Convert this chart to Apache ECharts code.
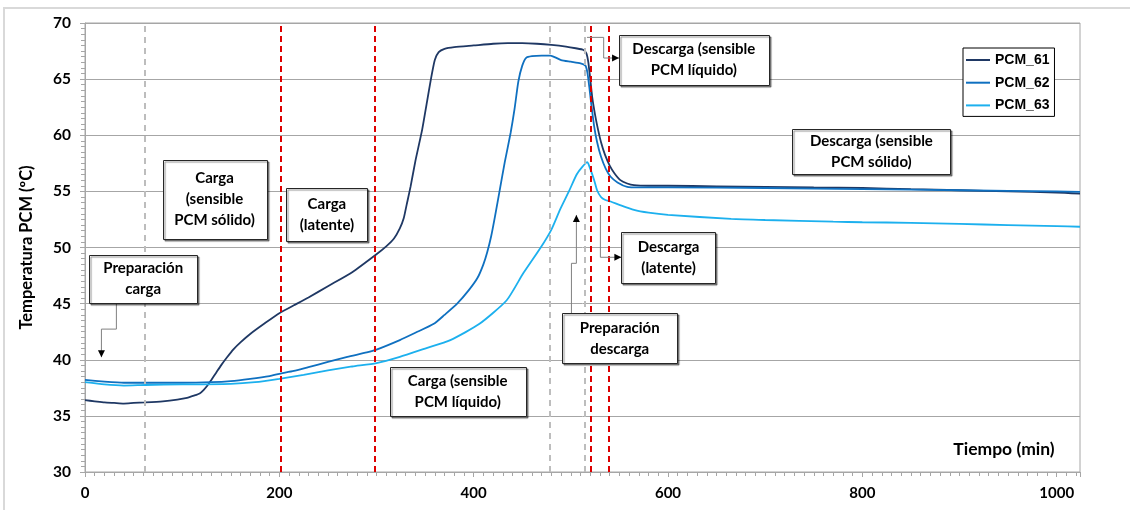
<!DOCTYPE html>
<html>
<head>
<meta charset="utf-8">
<script src="https://cdn.jsdelivr.net/npm/echarts@6/dist/echarts.min.js"></script>
<style>
  html, body { margin: 0; padding: 0; background: #fff; }
  #chart { width: 1130px; height: 510px; }
</style>
</head>
<body>
<div id="chart"></div>
<script>
// Temperatura del PCM (ºC) frente al tiempo (min) para los tres sensores
const pcm61Time = [0, 10, 20, 30, 40, 50, 62, 80, 95, 105, 112, 118, 122, 126, 130, 135, 140, 146, 153, 160, 170, 185, 200, 215, 230, 250, 275, 300, 310, 318, 324, 328, 331, 335, 340, 347, 352, 356, 360, 364, 370, 380, 400, 420, 435, 450, 465, 480, 495, 505, 513, 516, 518, 520, 522, 525, 528, 531, 535, 540, 545, 551, 558, 565, 580, 600, 650, 700, 750, 800, 850, 900, 950, 1000, 1024];
const pcm61Temp = [36.4, 36.3, 36.2, 36.15, 36.1, 36.15, 36.2, 36.3, 36.45, 36.6, 36.8, 37.0, 37.3, 37.7, 38.2, 38.85, 39.5, 40.2, 40.95, 41.55, 42.3, 43.25, 44.15, 44.85, 45.55, 46.55, 47.8, 49.4, 50.1, 50.8, 51.7, 52.6, 53.8, 55.4, 57.7, 60.5, 63.0, 65.0, 66.7, 67.4, 67.7, 67.85, 68.0, 68.15, 68.2, 68.2, 68.15, 68.05, 67.9, 67.75, 67.6, 67.3, 66.5, 65.0, 63.4, 61.8, 60.5, 59.4, 58.3, 57.3, 56.6, 56.0, 55.7, 55.55, 55.5, 55.5, 55.45, 55.4, 55.35, 55.3, 55.2, 55.1, 55.0, 54.9, 54.8];

const pcm62Time = [0, 20, 40, 62, 100, 130, 150, 170, 190, 200, 215, 230, 250, 270, 290, 300, 324, 340, 359, 370, 383, 395, 404, 410, 414, 418, 422, 427, 432, 438, 442, 446, 450, 454, 460, 470, 479, 485, 490, 500, 510, 515, 517, 519, 521, 524, 527, 531, 536, 541, 548, 558, 570, 600, 700, 800, 900, 1000, 1024];
const pcm62Temp = [38.2, 38.05, 37.95, 37.95, 37.95, 38.0, 38.1, 38.3, 38.55, 38.75, 39.0, 39.35, 39.8, 40.25, 40.65, 40.9, 41.75, 42.4, 43.2, 44.0, 45.0, 46.2, 47.3, 48.5, 49.6, 51.0, 52.8, 55.2, 57.6, 60.2, 62.3, 64.8, 66.2, 66.9, 67.05, 67.1, 67.1, 66.9, 66.7, 66.55, 66.4, 66.2, 65.6, 64.3, 62.8, 60.8, 59.4, 58.1, 57.0, 56.3, 55.8, 55.4, 55.35, 55.35, 55.3, 55.2, 55.1, 55.0, 54.95];

const pcm63Time = [0, 20, 40, 62, 100, 150, 175, 200, 225, 250, 275, 300, 324, 350, 376, 406, 434, 451, 469, 480, 489, 498, 506, 512, 517, 520, 524, 527, 531, 535, 541, 550, 565, 580, 600, 665, 700, 770, 800, 850, 900, 950, 1000, 1024];
const pcm63Temp = [38.0, 37.8, 37.7, 37.75, 37.8, 37.85, 38.0, 38.3, 38.65, 39.05, 39.4, 39.7, 40.26, 41.0, 41.75, 43.2, 45.3, 47.7, 50.0, 51.6, 53.4, 55.0, 56.5, 57.2, 57.6, 57.0, 56.0, 55.1, 54.5, 54.25, 54.1, 53.8, 53.35, 53.1, 52.9, 52.55, 52.45, 52.3, 52.25, 52.2, 52.1, 52.0, 51.9, 51.85];

const seriesNames = ['PCM_61', 'PCM_62', 'PCM_63'];

// Límites de fase (min)
const phaseGray = [62, 478, 514];
const phaseRed = [201, 298, 520, 539];

// Cuadros de texto de las fases, en coordenadas de datos: [t0, T0, t1, T1]
const phaseBoxes = [
  { text: 'Preparación\ncarga', box: [4.1, 49.33, 115.7, 45.08],
    arrow: [[32.3, 45.08], [32.3, 42.73], [16.9, 42.73], [16.9, 40.23]] },
  { text: 'Carga\n(sensible\nPCM sólido)', box: [79.9, 57.81, 186.7, 50.73] },
  { text: 'Carga\n(latente)', box: [207.3, 55.33, 290.6, 50.61] },
  { text: 'Carga (sensible\nPCM líquido)', box: [313.6, 39.31, 453.5, 34.97] },
  { text: 'Preparación\ndescarga', box: [491.3, 44.13, 609.3, 39.67],
    arrow: [[500.6, 44.13], [500.6, 48.59], [505.7, 48.59], [505.7, 52.9]] },
  { text: 'Descarga\n(latente)', box: [552.0, 51.36, 649.1, 46.86],
    arrow: [[530.4, 53.79], [530.4, 49.13], [552.0, 49.13]] },
  { text: 'Descarga (sensible\nPCM líquido)', box: [549.6, 68.96, 703.6, 64.5],
    arrow: [[516.6, 68.72], [533.8, 68.72], [533.8, 66.88], [549.6, 66.88]] },
  { text: 'Descarga (sensible\nPCM sólido)', box: [728.0, 60.57, 890.6, 56.53] }
];

const colors = ['#1f3864', '#0f70c0', '#1cb0ee'];
const labelFont = 'Lato';

function pairs(ts, vs) { return ts.map((t, i) => [t, vs[i]]); }

const chart = echarts.init(document.getElementById('chart'), null, { renderer: 'canvas' });

const vLines = phaseGray.map(x => ({ xAxis: x, lineStyle: { color: '#bdbdbd', width: 2, type: [6, 5] } }))
  .concat(phaseRed.map(x => ({ xAxis: x, lineStyle: { color: '#dd0000', width: 2, type: [6, 4] } })));

function lineSeries(i, ts, vs, extra) {
  return Object.assign({
    name: seriesNames[i], type: 'line', data: pairs(ts, vs), showSymbol: false, smooth: 0.2,
    lineStyle: { color: colors[i], width: 1.8 }, itemStyle: { color: colors[i] }
  }, extra || {});
}

chart.setOption({
  animation: false,
  backgroundColor: '#fff',
  grid: { left: 85, top: 23, width: 995, height: 449, show: true, borderColor: '#a6a6a6', borderWidth: 1, backgroundColor: '#fff' },
  legend: {
    data: seriesNames,
    orient: 'vertical',
    left: 963, top: 48,
    padding: [4, 5, 3, 3],
    itemGap: 6.7,
    itemWidth: 24, itemHeight: 2,
    icon: 'rect',
    borderColor: '#000', borderWidth: 1,
    backgroundColor: '#fff',
    textStyle: { fontFamily: 'Liberation Sans', fontWeight: 'bold', fontSize: 14, color: '#000', lineHeight: 16 }
  },
  xAxis: {
    type: 'value', min: 0, max: 1024, interval: 200,
    axisLine: { lineStyle: { color: '#a6a6a6' } },
    axisTick: { show: true, length: 5, lineStyle: { color: '#a6a6a6' } },
    minorTick: { show: true, splitNumber: 20, length: 4, lineStyle: { color: '#a6a6a6' } },
    splitLine: { show: false },
    axisLabel: { showMaxLabel: false, margin: 14, formatter: v => String(v),
      fontFamily: labelFont, fontWeight: 'bold', fontSize: 15, color: '#000' }
  },
  yAxis: {
    type: 'value', min: 30, max: 70, interval: 5,
    name: 'Temperatura PCM (ºC)', nameLocation: 'middle', nameGap: 50, nameRotate: 90,
    nameTextStyle: { fontFamily: labelFont, fontWeight: 'bold', fontSize: 16.5, color: '#000' },
    axisLine: { show: true, lineStyle: { color: '#a6a6a6' } },
    axisTick: { show: true, length: 5, lineStyle: { color: '#a6a6a6' } },
    minorTick: { show: true, splitNumber: 10, length: 4, lineStyle: { color: '#a6a6a6' } },
    splitLine: { show: true, lineStyle: { color: '#a6a6a6', width: 1 } },
    axisLabel: { margin: 14, fontFamily: labelFont, fontWeight: 'bold', fontSize: 15.5, color: '#000' }
  },
  series: [
    lineSeries(0, pcm61Time, pcm61Temp, {
      markLine: { silent: true, symbol: ['none', 'none'], label: { show: false }, data: vLines } }),
    lineSeries(1, pcm62Time, pcm62Temp),
    lineSeries(2, pcm63Time, pcm63Temp)
  ]
});

// Cuadros de fase, flechas y título del eje X dibujados sobre la rejilla
function toPx(p) { return chart.convertToPixel({ gridIndex: 0 }, p); }

function arrowHead(tip, prev) {
  const dx = tip[0] - prev[0], dy = tip[1] - prev[1];
  const len = Math.hypot(dx, dy) || 1;
  const ux = dx / len, uy = dy / len;
  const L = 7, W = 3.5;
  const bx = tip[0] - ux * L, by = tip[1] - uy * L;
  return [tip, [bx - uy * W, by + ux * W], [bx + uy * W, by - ux * W]];
}

const elements = [];
elements.push({ type: 'rect', silent: true, z: -10, shape: { x: 4, y: 8, width: 1200, height: 600 },
  style: { fill: null, stroke: '#d9d9d9', lineWidth: 2 } });

phaseBoxes.forEach(b => {
  if (b.arrow) {
    const pts = b.arrow.map(toPx);
    elements.push({ type: 'polyline', silent: true, z: 20, shape: { points: pts },
      style: { stroke: '#808080', lineWidth: 1, fill: null } });
    elements.push({ type: 'polygon', silent: true, z: 21,
      shape: { points: arrowHead(pts[pts.length - 1], pts[pts.length - 2]) },
      style: { fill: '#000', stroke: null } });
  }
  const a = toPx([b.box[0], b.box[1]]);
  const c = toPx([b.box[2], b.box[3]]);
  elements.push({ type: 'rect', silent: true, z: 22,
    shape: { x: Math.round(a[0]) + 0.5, y: Math.round(a[1]) + 0.5, width: Math.round(c[0] - a[0]), height: Math.round(c[1] - a[1]) },
    style: { fill: '#fff', stroke: '#262626', lineWidth: 1, shadowColor: 'rgba(0,0,0,0.45)', shadowOffsetX: 1.5, shadowOffsetY: 1.5, shadowBlur: 1 } });
  elements.push({ type: 'text', silent: true, z: 23, x: (a[0] + c[0]) / 2, y: (a[1] + c[1]) / 2,
    style: { text: b.text, fontFamily: labelFont, fontWeight: 'bold', fontSize: 15, lineHeight: 21, fill: '#000', align: 'center', verticalAlign: 'middle' } });
});

const axisTitle = toPx([997.9, 32.02]);
elements.push({ type: 'text', silent: true, z: 23, x: axisTitle[0], y: axisTitle[1],
  style: { text: 'Tiempo (min)', fontFamily: labelFont, fontWeight: 'bold', fontSize: 17.5, fill: '#000', align: 'right', verticalAlign: 'middle' } });

chart.setOption({ graphic: { elements: elements } });
</script>
</body>
</html>
